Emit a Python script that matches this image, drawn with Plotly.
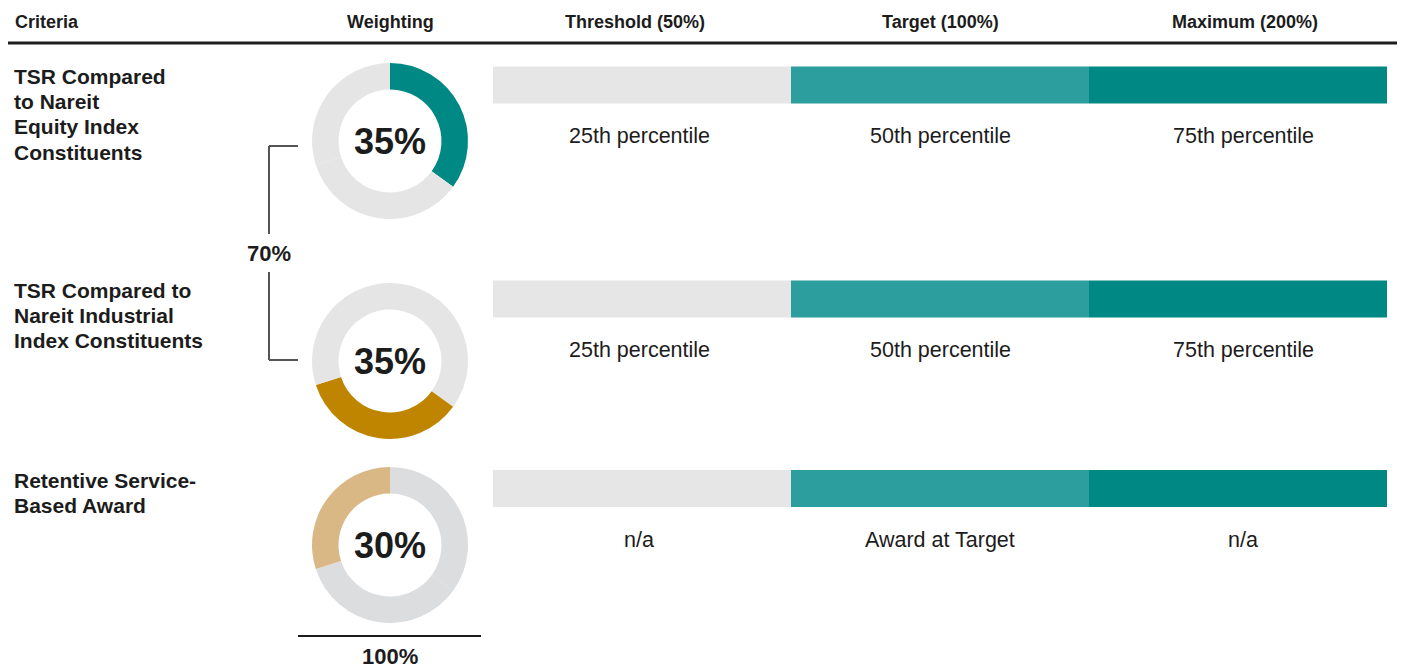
import plotly.graph_objects as go

# ---- content ----
headers = ["Criteria", "Weighting", "Threshold (50%)", "Target (100%)", "Maximum (200%)"]
criteria = [
    "TSR Compared<br>to Nareit<br>Equity Index<br>Constituents",
    "TSR Compared to<br>Nareit Industrial<br>Index Constituents",
    "Retentive Service-<br>Based Award",
]
weights = [35, 35, 30]
tiers = ["Threshold", "Target", "Maximum"]
tier_span = [1, 1, 1]
tier_notes = [
    ["25th percentile", "50th percentile", "75th percentile"],
    ["25th percentile", "50th percentile", "75th percentile"],
    ["n/a", "Award at Target", "n/a"],
]
tsr_weight = weights[0] + weights[1]
total_weight = sum(weights)

# ---- styling / layout ----
W, H = 1403, 672
INK = "#1c1c1c"
FONT = "Arial"
tier_colors = ["#e6e6e6", "#2d9e9e", "#008884"]
slice_colors = [
    ["#008884", "#e5e5e5", "#e5e5e5"],
    ["#e5e5e5", "#bf8500", "#e5e5e5"],
    ["#dcdddf", "#dcdddf", "#d9b886"],
]
row_label_top = [76, 290, 480]
label_pitch = 25.4
row_bar_y = [85, 299, 488.5]
row_note_y = [136, 350, 540]
donut_y = [141, 361, 545]
donut_x, donut_r = 390, 78
bar_x0, bar_x1 = 493, 1387
header_x = [13, 390, 635, 940, 1245]
note_x = [639, 940, 1243]

fig = go.Figure()

# tier bars, one trace per tier, stacked left to right
for t, name in enumerate(tiers):
    fig.add_trace(go.Bar(
        orientation="h",
        y=row_bar_y,
        x=[tier_span[t]] * len(criteria),
        base=[sum(tier_span[:t])] * len(criteria),
        width=37,
        marker=dict(color=tier_colors[t], line=dict(width=0)),
        name=name,
        xaxis="x2", yaxis="y2",
        hoverinfo="skip",
        showlegend=False,
    ))

# weighting donuts
for i in range(len(criteria)):
    cy = donut_y[i]
    fig.add_trace(go.Pie(
        values=weights,
        sort=False,
        direction="clockwise",
        rotation=0,
        hole=0.66,
        marker=dict(colors=slice_colors[i], line=dict(width=0)),
        textinfo="none",
        hoverinfo="skip",
        showlegend=False,
        domain=dict(
            x=[(donut_x - donut_r) / W, (donut_x + donut_r) / W],
            y=[1 - (cy + donut_r) / H, 1 - (cy - donut_r) / H],
        ),
    ))

ann = []
# header row
for j, h in enumerate(headers):
    ann.append(dict(x=header_x[j], y=22, text=f"<b>{h}</b>",
                    xanchor="left" if j == 0 else "center", yanchor="middle",
                    font=dict(size=18, color=INK)))
# criteria (one annotation per line for tighter leading), donut centres, tier notes
for i, c in enumerate(criteria):
    for k, line in enumerate(c.split("<br>")):
        ann.append(dict(x=12, y=row_label_top[i] + k * label_pitch, text=f"<b>{line}</b>",
                        xanchor="left", yanchor="middle",
                        font=dict(size=21, color=INK)))
    ann.append(dict(x=donut_x, y=donut_y[i], text=f"<b>{weights[i]}%</b>",
                    xanchor="center", yanchor="middle",
                    font=dict(size=36, color=INK)))
    for t in range(len(tiers)):
        ann.append(dict(x=note_x[t], y=row_note_y[i], text=tier_notes[i][t],
                        xanchor="center", yanchor="middle",
                        font=dict(size=21.5, color=INK)))
# group and total weights
ann.append(dict(x=269, y=253, text=f"<b>{tsr_weight}%</b>", xanchor="center",
                yanchor="middle", font=dict(size=22, color=INK)))
ann.append(dict(x=390, y=656, text=f"<b>{total_weight}%</b>", xanchor="center",
                yanchor="middle", font=dict(size=22, color=INK)))
for a in ann:
    a.update(xref="x", yref="y", showarrow=False)

shapes = [
    # header rule
    dict(type="line", x0=8, x1=1397, y0=43, y1=43, line=dict(color=INK, width=3)),
    # bracket joining the two TSR rows
    dict(type="line", x0=298, x1=269, y0=146, y1=146, line=dict(color="#555555", width=2)),
    dict(type="line", x0=269, x1=269, y0=146, y1=234, line=dict(color="#555555", width=2)),
    dict(type="line", x0=269, x1=269, y0=272, y1=360, line=dict(color="#555555", width=2)),
    dict(type="line", x0=269, x1=298, y0=360, y1=360, line=dict(color="#555555", width=2)),
    # total rule
    dict(type="line", x0=298, x1=481, y0=636, y1=636, line=dict(color=INK, width=2)),
]
for s in shapes:
    s.update(xref="x", yref="y", layer="above")

hidden = dict(visible=False, showgrid=False, zeroline=False, fixedrange=True)
fig.update_layout(
    width=W, height=H,
    margin=dict(l=0, r=0, t=0, b=0),
    paper_bgcolor="white", plot_bgcolor="rgba(0,0,0,0)",
    font=dict(family=FONT, color=INK),
    barmode="overlay",
    xaxis=dict(range=[0, W], domain=[0, 1], anchor="y", **hidden),
    yaxis=dict(range=[H, 0], domain=[0, 1], anchor="x", **hidden),
    xaxis2=dict(range=[0, sum(tier_span)], domain=[bar_x0 / W, bar_x1 / W],
                anchor="y2", **hidden),
    yaxis2=dict(range=[H, 0], domain=[0, 1], anchor="x2", **hidden),
    annotations=ann,
    shapes=shapes,
)

fig.write_html("out.html")
